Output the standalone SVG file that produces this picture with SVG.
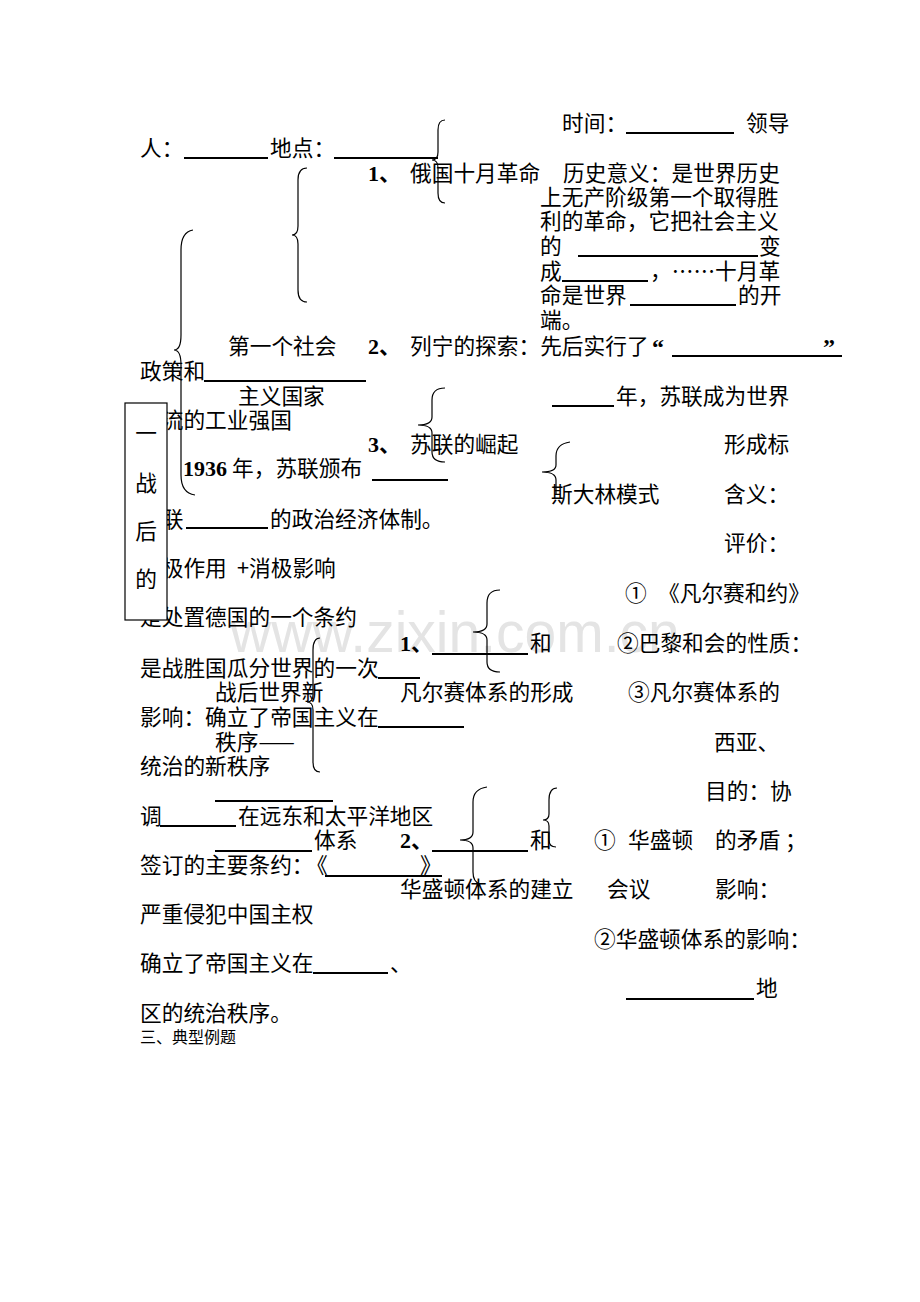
<svg xmlns="http://www.w3.org/2000/svg" width="920" height="1302" viewBox="0 0 920 1302">
<style>
.t{font-family:"Noto Sans CJK SC","Noto Sans CJK JP",sans-serif;font-size:21.7px;fill:#000}
.s{font-family:"Noto Sans CJK SC","Noto Sans CJK JP",sans-serif;font-size:16px;fill:#000}
.b{font-family:"Liberation Serif","Noto Sans CJK SC",serif;font-weight:bold;font-size:22px;fill:#000}
.q{font-family:"Liberation Serif",serif;font-weight:bold;font-size:24px;fill:#000}
.u{stroke:#000;stroke-width:2}
.br{fill:none;stroke:#000;stroke-width:1.2}
.wm{font-family:"Liberation Sans",Arial,sans-serif;font-size:57px;fill:#e4e4e4}
</style>
<rect width="920" height="1302" fill="#fff"/>
<text class="wm" x="230" y="652">www.zixin.com.cn</text>

<g id="connectors">
<path class="br" d="M445 120 Q438 120 438 130 L438 152 Q438 160 432 160 Q438 160 438 168 L438 193 Q438 203 445 203"/>
<path class="br" d="M307 168 Q298 168 298 180 L298 226 Q298 235 292 235 Q298 235 298 244 L298 290 Q298 302 307 302"/>
<path class="br" d="M193 230 Q181 232 181 250 L181 335 Q181 350 174 350 Q181 350 181 365 L181 475 Q181 493 195 495"/>
<path class="br" d="M445 388 Q432 388 432 400 L432 417 Q432 425 418 425 Q432 425 432 433 L432 452 Q432 462 445 462"/>
<path class="br" d="M570 442 Q556 444 556 456 L556 465 Q556 472 542 472 Q556 472 556 480 L556 495"/>
<path class="br" d="M500 590 Q487 590 487 603 L487 624 Q487 632 473 632 Q487 632 487 640 L487 662 Q487 672 500 672"/>
<path class="br" d="M320 638 Q313 638 313 650 L313 695 Q313 702 307 702 Q313 702 313 710 L313 762 Q313 772 320 772"/>
<path class="br" d="M487 787 Q473 789 473 802 L473 832 Q473 840 460 840 Q473 840 473 848 L473 872 Q473 882 480 884"/>
<path class="br" d="M557 788 Q549 788 549 800 L549 814 Q549 820 543 820 Q549 820 549 826 L549 840 Q549 847 556 847"/>
</g>

<g id="blanks">
<line class="u" x1="626" y1="133" x2="734" y2="133"/>
<line class="u" x1="184" y1="158" x2="268" y2="158"/>
<line class="u" x1="334" y1="158" x2="438" y2="158"/>
<line class="u" x1="578" y1="256" x2="758" y2="256"/>
<line class="u" x1="562" y1="281" x2="648" y2="281"/>
<line class="u" x1="630" y1="305" x2="736" y2="305"/>
<line class="u" x1="672" y1="356" x2="842" y2="356"/>
<line class="u" x1="204" y1="381" x2="366" y2="381"/>
<line class="u" x1="552" y1="406" x2="614" y2="406"/>
<line class="u" x1="372" y1="480" x2="448" y2="480"/>
<line class="u" x1="186" y1="528" x2="268" y2="528"/>
<line class="u" x1="432" y1="654" x2="528" y2="654"/>
<line class="u" x1="378" y1="678" x2="420" y2="678"/>
<line class="u" x1="378" y1="727" x2="464" y2="727"/>
<line class="u" x1="215" y1="801" x2="333" y2="801"/>
<line class="u" x1="160" y1="826" x2="236" y2="826"/>
<line class="u" x1="215" y1="851" x2="312" y2="851"/>
<line class="u" x1="432" y1="851" x2="528" y2="851"/>
<line class="u" x1="325" y1="876" x2="442" y2="876"/>
<line class="u" x1="313" y1="973" x2="388" y2="973"/>
<line class="u" x1="626" y1="999" x2="754" y2="999"/>
</g>

<g id="october-revolution">
<text class="t" x="562" y="131">时间：</text>
<text class="t" x="746" y="131">领导</text>
<text class="t" x="140" y="156">人：</text>
<text class="t" x="270" y="156">地点：</text>
<text class="b" x="368" y="181">1<tspan class="t">、</tspan></text>
<text class="t" x="410" y="181">俄国十月革命</text>
<text class="t" x="563" y="181">历史意义：是世界历史</text>
<text class="t" x="540" y="205">上无产阶级第一个取得胜</text>
<text class="t" x="540" y="229">利的革命，它把社会主义</text>
<text class="t" x="540" y="254">的</text>
<text class="t" x="759" y="254">变</text>
<text class="t" x="540" y="279">成</text>
<text class="t" x="650" y="279">，……十月革</text>
<text class="t" x="540" y="303">命是世界</text>
<text class="t" x="738" y="303">的开</text>
<text class="t" x="540" y="328">端。</text>
</g>

<g id="lenin">
<text class="t" x="228" y="354">第一个社会</text>
<text class="b" x="368" y="354">2<tspan class="t">、</tspan></text>
<text class="t" x="410" y="354">列宁的探索：先后实行了</text>
<text class="q" x="652" y="355">“</text>
<text class="q" x="823" y="355">”</text>
<text class="t" x="140" y="379">政策和</text>
<text class="t" x="238" y="404">主义国家</text>
</g>

<g id="soviet-rise">
<text class="t" x="616" y="404">年，苏联成为世界</text>
<text class="t" x="140" y="428">一流的工业强国</text>
<text class="b" x="368" y="452">3<tspan class="t">、</tspan></text>
<text class="t" x="410" y="452">苏联的崛起</text>
<text class="t" x="724" y="452">形成标</text>
<text class="b" x="183" y="476">1936</text>
<text class="t" x="232" y="476">年，苏联颁布</text>
<text class="t" x="551" y="502">斯大林模式</text>
<text class="t" x="724" y="502">含义：</text>
<text class="t" x="140" y="527">苏联</text>
<text class="t" x="270" y="527">的政治经济体制。</text>
<text class="t" x="724" y="551">评价：</text>
<text class="t" x="140" y="576">积极作用</text>
<text class="t" x="237" y="576">+消极影响</text>
</g>

<g id="versailles">
<text class="t" x="625" y="601">①</text>
<text class="t" x="658" y="601">《凡尔赛和约》</text>
<text class="t" x="140" y="625">是处置德国的一个条约</text>
<text class="b" x="400" y="651">1<tspan class="t">、</tspan></text>
<text class="t" x="530" y="651">和</text>
<text class="t" x="617" y="651">②巴黎和会的性质：</text>
<text class="t" x="140" y="676">是战胜国瓜分世界的一次</text>
<text class="t" x="215" y="700">战后世界新</text>
<text class="t" x="400" y="700">凡尔赛体系的形成</text>
<text class="t" x="628" y="700">③凡尔赛体系的</text>
<text class="t" x="140" y="725">影响：确立了帝国主义在</text>
<text class="t" x="215" y="750">秩序——</text>
<text class="t" x="714" y="750">西亚、</text>
<text class="t" x="140" y="774">统治的新秩序</text>
</g>

<g id="washington">
<text class="t" x="705" y="799">目的：协</text>
<text class="t" x="140" y="824">调</text>
<text class="t" x="238" y="824">在远东和太平洋地区</text>
<text class="t" x="314" y="848">体系</text>
<text class="b" x="400" y="848">2<tspan class="t">、</tspan></text>
<text class="t" x="530" y="848">和</text>
<text class="t" x="594" y="848">①</text>
<text class="t" x="628" y="848">华盛顿</text>
<text class="t" x="715" y="848">的矛盾</text>
<text class="t" x="785" y="848">；</text>
<text class="t" x="140" y="873">签订的主要条约：</text>
<text class="t" x="306" y="873">《</text>
<text class="t" x="420" y="873">》</text>
<text class="t" x="400" y="897">华盛顿体系的建立</text>
<text class="t" x="607" y="897">会议</text>
<text class="t" x="715" y="897">影响：</text>
<text class="t" x="140" y="922">严重侵犯中国主权</text>
<text class="t" x="594" y="947">②华盛顿体系的影响：</text>
<text class="t" x="140" y="971">确立了帝国主义在</text>
<text class="t" x="390" y="971">、</text>
<text class="t" x="756" y="996">地</text>
<text class="t" x="140" y="1021">区的统治秩序。</text>
<text class="s" x="140" y="1043">三、典型例题</text>
</g>

<g id="title-box">
<rect x="125" y="403" width="42" height="217" fill="#fff" stroke="#000" stroke-width="1.2"/>
<text class="t" x="146" y="441" text-anchor="middle">一</text>
<text class="t" x="146" y="491" text-anchor="middle">战</text>
<text class="t" x="146" y="539" text-anchor="middle">后</text>
<text class="t" x="146" y="587" text-anchor="middle">的</text>
</g>
</svg>
